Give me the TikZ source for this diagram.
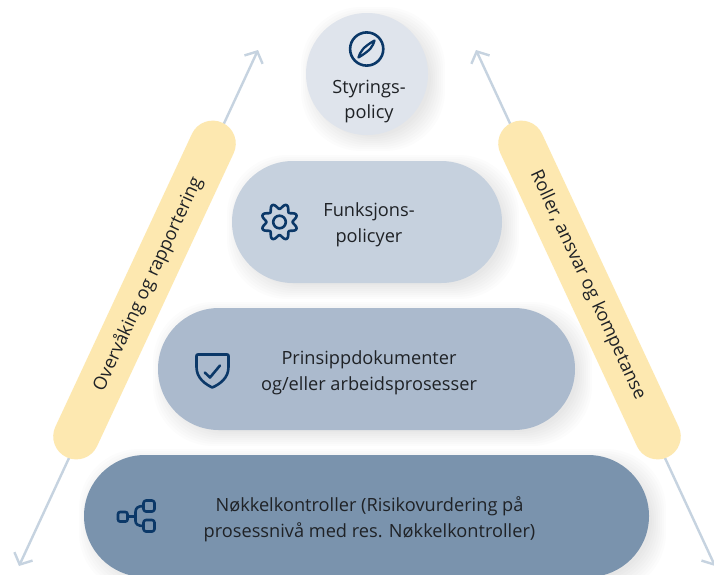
\documentclass[tikz,border=0pt]{standalone}
\usepackage{fontspec}
\setmainfont{Open Sans}
\usetikzlibrary{arrows.meta}
\definecolor{pillA}{HTML}{DFE4EC}
\definecolor{pillB}{HTML}{C6D1DE}
\definecolor{pillC}{HTML}{ABBACD}
\definecolor{pillD}{HTML}{7A93AD}
\definecolor{sunny}{HTML}{FDE8B0}
\definecolor{iconblue}{HTML}{0B3868}
\definecolor{arrowgrey}{HTML}{C6D3E0}
\definecolor{inktext}{HTML}{1F2226}
\tikzset{
  pill/.style={rectangle,inner sep=0pt,minimum height=122pt,rounded corners=60.9pt},
  sidebar/.style={rectangle,fill=sunny,inner sep=0pt,minimum width=369pt,minimum height=46pt,rounded corners=22.9pt},
  sidelab/.style={inner sep=0pt,text=inktext,font=\fontsize{18.2}{24}\selectfont},
  lab/.style={align=center,text=inktext,inner sep=0pt,font=\fontsize{18.2}{26}\selectfont},
  sidearrow/.style={draw=arrowgrey,line width=2.4pt,{Straight Barb[length=9pt,width=20pt,line width=2.4pt]}-{Straight Barb[length=9pt,width=20pt,line width=2.4pt]}},
  icon/.style={draw=iconblue,line width=2.6pt,line join=round,line cap=round}
}
\newcommand{\softshadow}[4]{%
  \foreach \s in {-3,-1,...,11}{
    \fill[black,opacity=0.012,rounded corners=60pt]
      (#1+6-\s,#2+5-\s) rectangle (#3+6+\s,#4+5+\s);
  }%
}
\begin{document}
\begin{tikzpicture}[x=1pt,y=-1pt]
\clip (0,0) rectangle (714,574);
\fill[white] (0,0) rectangle (714,574);
% free ends of the arrows
\coordinate (lt) at (258,50);
\coordinate (lb) at (19,566);
\coordinate (rt) at (476,50);
\coordinate (rb) at (715,566);
\draw[sidearrow] (lb) -- (lt);
\draw[sidearrow] (rb) -- (rt);
% shadows
\softshadow{306}{13}{428}{135}
\softshadow{232}{161}{502}{283}
\softshadow{158}{308}{575}{430}
\softshadow{84}{455}{649}{577}
% pills
\node[pill,fill=pillA,minimum width=122pt] (p1) at (367,74) {};
\node[pill,fill=pillB,minimum width=270pt] (p2) at (367,222) {};
\node[pill,fill=pillC,minimum width=417pt] (p3) at (366.5,369) {};
\node[pill,fill=pillD,minimum width=565pt] (p4) at (366.5,516) {};
% side bars
\node[sidebar,rotate=65] (ls) at (144.5,290) {};
\node[sidebar,rotate=-65] (rs) at (589.5,290) {};
\node[sidelab,rotate=65] (lst) at (148,284) {Overvåking og rapportering};
\node[sidelab,rotate=-65] (rst) at (587.5,285) {Roller, ansvar og kompetanse};
% labels
\node[lab,font=\fontsize{18.2}{25}\selectfont] (t1) at (369,101.5) {Styrings-\\policy};
\node[lab] (t2) at (369,225) {Funksjons-\\policyer};
\node[lab] (t3) at (369,373) {Prinsippdokumenter\\og/eller arbeidsprosesser};
\node[lab] (t4) at (369.5,519) {Nøkkelkontroller (Risikovurdering på\\prosessnivå med res. Nøkkelkontroller)};
% compass
\draw[icon] (366.7,49) circle (16.6);
\draw[icon,line width=2.3pt] (374.5,40.5) .. controls (373,46) and (371,50) .. (358.5,57.5)
   .. controls (360,52) and (363,47) .. cycle;
% gear
\draw[icon] plot[domain=0:360,samples=145,smooth] ({279.5+(15.7+2.6*cos(8*(\x-22.5)))*cos(\x)},{222+(15.7+2.6*cos(8*(\x-22.5)))*sin(\x)}) -- cycle;
\draw[icon] (279.5,222) circle (6.3);
% shield
\draw[icon] (198,354.5) -- (227,354.5) .. controls (228.5,354.5) and (228.5,355) .. (228.5,356) -- (228.5,367)
   .. controls (228.5,378) and (220,384) .. (212.3,387.5)
   .. controls (205,384) and (196.5,378) .. (196.5,367) -- (196.5,356) .. controls (196.5,355) and (196.5,354.5) .. (198,354.5) -- cycle;
\draw[icon] (204.8,372.5) -- (210,377.5) -- (220,365.5);
% hierarchy
\draw[icon,rounded corners=2pt] (118,512) rectangle (127.5,521.5);
\draw[icon,rounded corners=2.5pt] (143.5,500.5) rectangle (154.5,511.5);
\draw[icon,rounded corners=2.5pt] (143.5,520) rectangle (154.5,531.5);
\draw[icon] (127.5,516.5) -- (135,516.5);
\draw[icon] (143.5,506) .. controls (138,506) and (135.5,508) .. (135.5,512) -- (135.5,521) .. controls (135.5,524) and (138,526) .. (143.5,526);
\end{tikzpicture}
\end{document}
